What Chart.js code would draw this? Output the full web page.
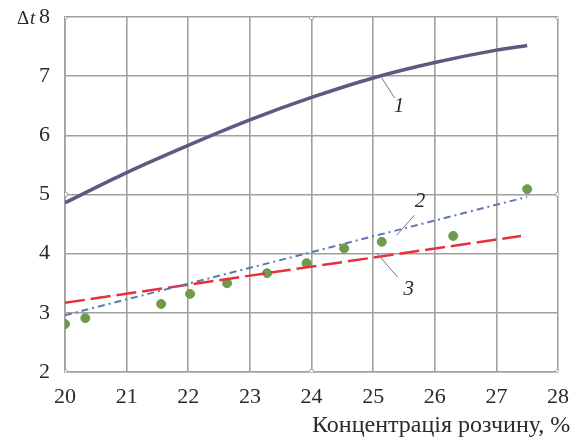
<!DOCTYPE html>
<html>
<head>
<meta charset="utf-8">
<script src="https://cdn.jsdelivr.net/npm/chart.js@4.4.0/dist/chart.umd.min.js"></script>
<style>
  html, body { margin: 0; padding: 0; background: #fff; }
  #wrap { width: 574px; height: 439px; }
</style>
</head>
<body>
<div id="wrap"><canvas id="grafik" width="574" height="439"></canvas></div>
<script>
// крива 1 (розрахунок)
const x1 = [20, 21, 22, 23, 24, 25, 26, 27, 27.5];
const y1 = [4.86, 5.37, 5.83, 6.26, 6.64, 6.97, 7.23, 7.44, 7.52];
// пряма 2
const x2 = [20, 27.5];
const y2 = [2.96, 4.96];
// пряма 3
const x3 = [20, 27.4];
const y3 = [3.17, 4.30];
// експериментальні точки
const xExp = [20, 20.33, 21.56, 22.03, 22.63, 23.28, 23.92, 24.53, 25.14, 26.3, 27.5];
const yExp = [2.81, 2.91, 3.15, 3.32, 3.50, 3.67, 3.84, 4.09, 4.20, 4.30, 5.09];
// маленькі кружки на рамці
const xMark = [20, 20, 20, 24, 24, 28, 28, 28];
const yMark = [2, 5, 8, 2, 8, 2, 5, 8];

const xTitle = "Концентрація розчину, %";

// підписи кривих з виносками: [текст, x, y, x0, y0, x1, y1]
const labels = [
    ["1", 25.42, 6.48, 25.14, 6.97, 25.35, 6.63],
    ["2", 25.76, 4.88, 25.67, 4.65, 25.38, 4.31],
    ["3", 25.58, 3.40, 25.06, 4.01, 25.4, 3.6]
];

const zip = (xs, ys) => xs.map((x, i) => ({ x: x, y: ys[i] }));

const serif = "'Liberation Serif', 'DejaVu Serif', serif";

const textPlugin = {
    id: "podpysy",
    afterDraw(chart) {
        const ctx = chart.ctx;
        const sx = chart.scales.x, sy = chart.scales.y;
        ctx.save();
        // виноски
        ctx.strokeStyle = "#777";
        ctx.lineWidth = 1;
        ctx.fillStyle = "#2a2a2a";
        ctx.font = "italic 21px " + serif;
        ctx.textAlign = "center";
        ctx.textBaseline = "middle";
        labels.forEach(l => {
            ctx.beginPath();
            ctx.moveTo(sx.getPixelForValue(l[3]), sy.getPixelForValue(l[4]));
            ctx.lineTo(sx.getPixelForValue(l[5]), sy.getPixelForValue(l[6]));
            ctx.stroke();
            ctx.fillText(l[0], sx.getPixelForValue(l[1]), sy.getPixelForValue(l[2]));
        });
        // Δt
        ctx.textAlign = "left";
        ctx.font = "19px " + serif;
        ctx.fillText("Δ", 17, 19);
        ctx.font = "italic 19px " + serif;
        ctx.fillText("t", 30, 19);
        // назва осі x
        ctx.font = "24px " + serif;
        ctx.textBaseline = "alphabetic";
        ctx.fillText(xTitle, 312, 432);
        ctx.restore();
    }
};

const ctx = document.getElementById("grafik").getContext("2d");
const grafik = new Chart(ctx, {
    type: "scatter",
    data: {
        datasets: [
            {
                label: "1",
                data: zip(x1, y1),
                showLine: true,
                borderColor: "#5b5b80",
                borderWidth: 3.5,
                cubicInterpolationMode: "monotone",
                pointRadius: 0
            },
            {
                label: "2",
                data: zip(x2, y2),
                showLine: true,
                borderColor: "#5d78b0",
                borderWidth: 2,
                borderDash: [7, 4, 2, 4],
                pointRadius: 0
            },
            {
                label: "3",
                data: zip(x3, y3),
                showLine: true,
                borderColor: "#e8303a",
                borderWidth: 2.5,
                borderDash: [20, 6],
                pointRadius: 0
            },
            {
                label: "експеримент",
                data: zip(xExp, yExp),
                backgroundColor: "#6e9a4c",
                borderColor: "#6e9a4c",
                pointRadius: 4.5
            },
            {
                label: "рамка",
                data: zip(xMark, yMark),
                backgroundColor: "#fff",
                borderColor: "#999",
                borderWidth: 1,
                pointRadius: 2.5
            }
        ]
    },
    options: {
        responsive: false,
        animation: false,
        layout: { padding: { top: 17, right: 16, left: 0, bottom: 0 } },
        plugins: {
            legend: { display: false },
            tooltip: { enabled: false }
        },
        scales: {
            x: {
                type: "linear",
                min: 20,
                max: 28,
                ticks: {
                    stepSize: 1,
                    padding: 12,
                    color: "#2a2a2a",
                    font: { family: serif, size: 22 }
                },
                grid: { color: "#a0a0a0", lineWidth: 1.6, drawTicks: false },
                border: { color: "#a0a0a0", width: 1.6 },
                afterFit(scale) {
                    scale.height = 67;
                    scale.paddingLeft = 0;
                    scale.paddingRight = 0;
                }
            },
            y: {
                min: 2,
                max: 8,
                ticks: {
                    stepSize: 1,
                    padding: 15,
                    color: "#2a2a2a",
                    font: { family: serif, size: 22 }
                },
                grid: { color: "#a0a0a0", lineWidth: 1.6, drawTicks: false },
                border: { color: "#a0a0a0", width: 1.6 },
                afterFit(scale) {
                    scale.width = 65;
                    scale.paddingTop = 0;
                    scale.paddingBottom = 0;
                }
            }
        }
    },
    plugins: [textPlugin]
});
</script>
</body>
</html>
